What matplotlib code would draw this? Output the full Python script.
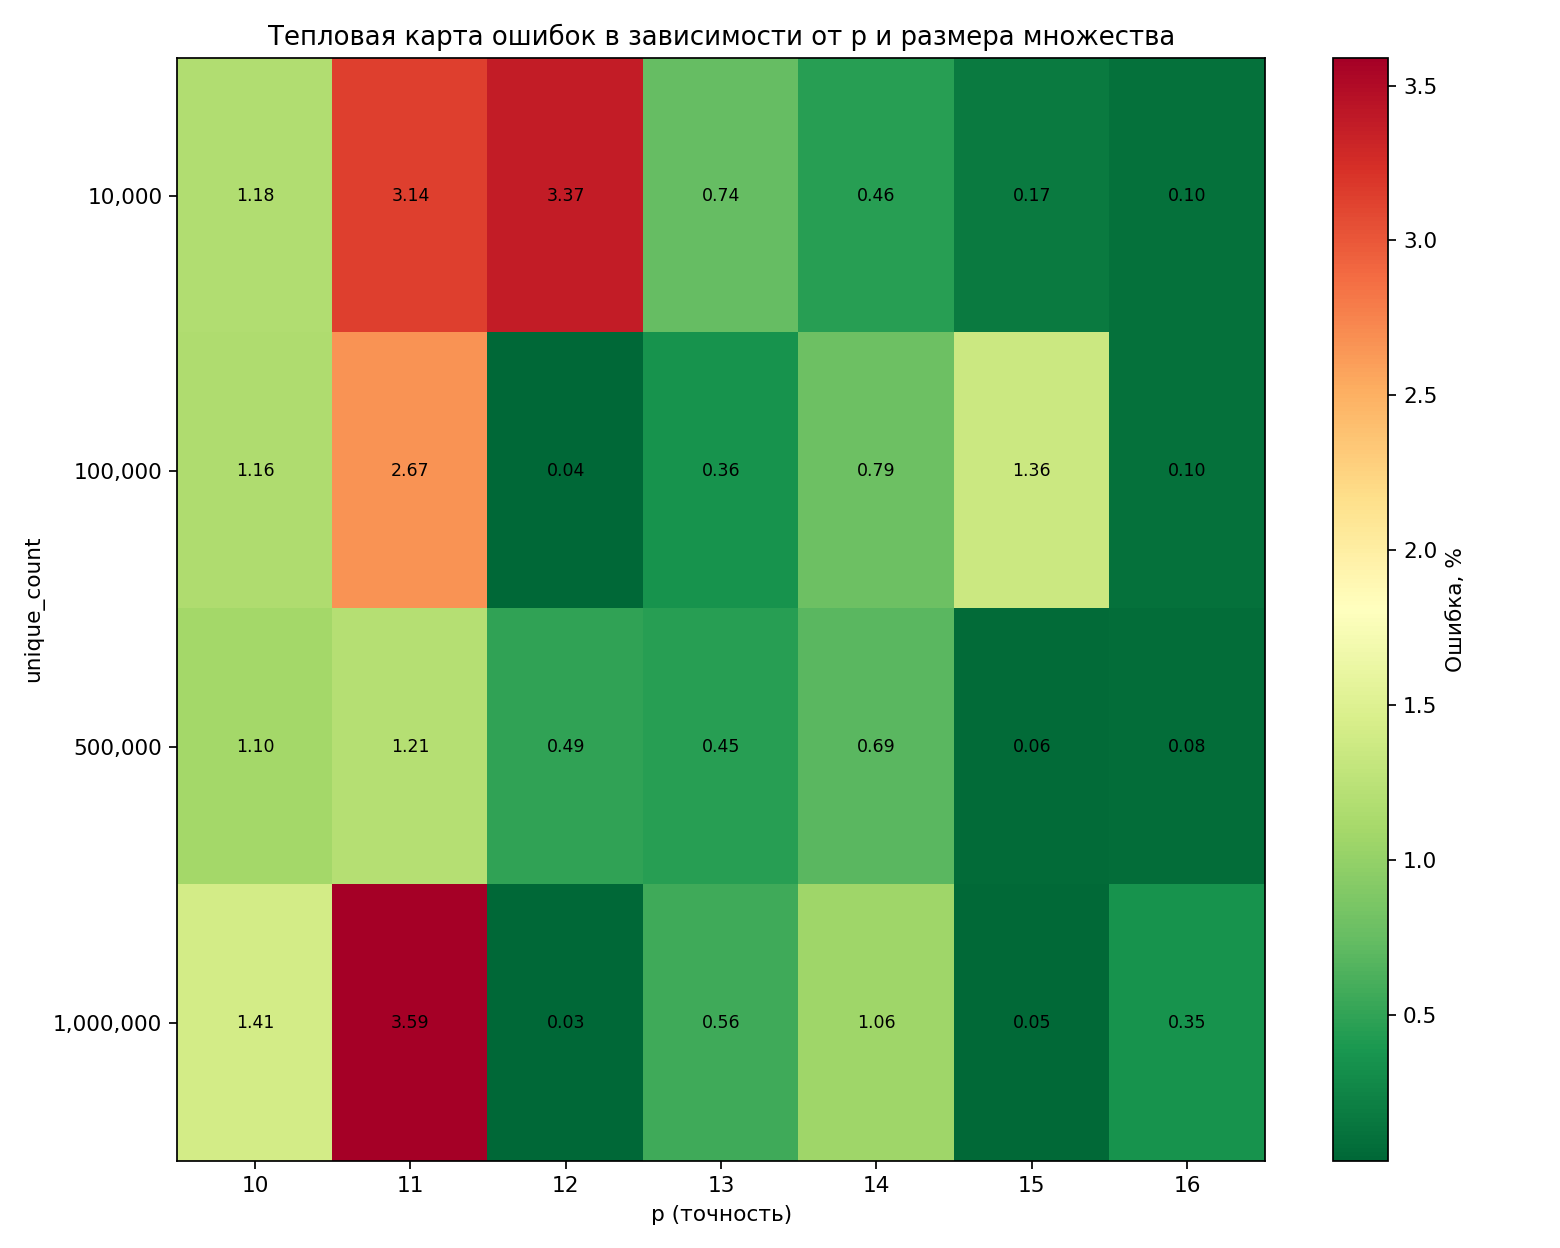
import matplotlib
matplotlib.use("Agg")
import matplotlib.pyplot as plt
import numpy as np

p_values = [10, 11, 12, 13, 14, 15, 16]
unique_counts = ["10,000", "100,000", "500,000", "1,000,000"]
err_10k = [1.18, 3.14, 3.37, 0.74, 0.46, 0.17, 0.10]
err_100k = [1.16, 2.67, 0.04, 0.36, 0.79, 1.36, 0.10]
err_500k = [1.10, 1.21, 0.49, 0.45, 0.69, 0.06, 0.08]
err_1m = [1.41, 3.59, 0.03, 0.56, 1.06, 0.05, 0.35]

data = np.array([err_10k, err_100k, err_500k, err_1m])

fig, ax = plt.subplots(figsize=(10, 8), dpi=156)
im = ax.imshow(data, cmap="RdYlGn_r", aspect="auto")
cbar = fig.colorbar(im, ax=ax)
cbar.set_label("Ошибка, %")
ax.set_xticks(range(len(p_values)))
ax.set_xticklabels([str(p) for p in p_values])
ax.set_yticks(range(len(unique_counts)))
ax.set_yticklabels(unique_counts)
ax.set_xlabel("p (точность)")
ax.set_ylabel("unique_count")
ax.set_title("Тепловая карта ошибок в зависимости от p и размера множества")
for i in range(data.shape[0]):
    for j in range(data.shape[1]):
        ax.text(j, i, f"{data[i, j]:.2f}", ha="center", va="center", color="black", fontsize=8)
fig.tight_layout()
fig.savefig("out.png", dpi=156)
